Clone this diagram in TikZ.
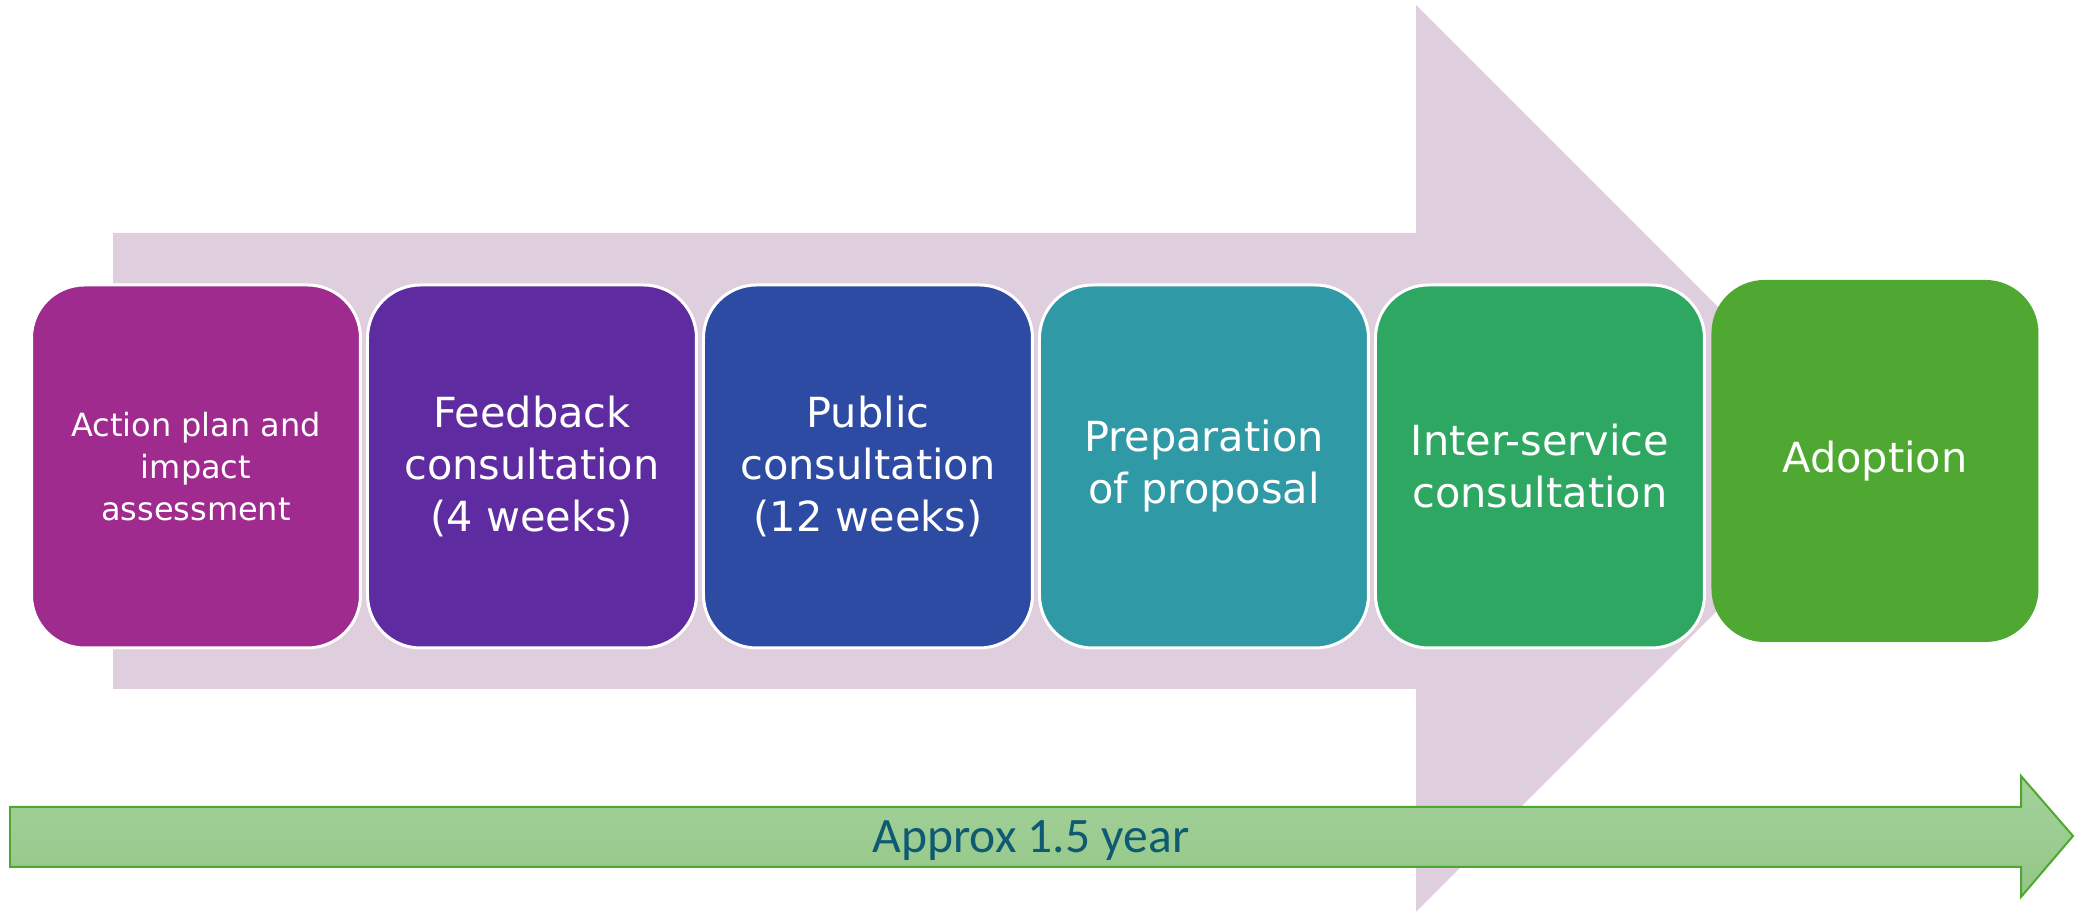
\documentclass[tikz,border=0pt]{standalone}
\usepackage{fontspec}
\setmainfont{DejaVu Sans}
\newfontfamily\dauerfont{Carlito}
\usepackage{xcolor}
\usepackage{tikz}
\usetikzlibrary{positioning}
\definecolor{stufeA}{HTML}{A02B8F}
\definecolor{stufeB}{HTML}{5F2BA0}
\definecolor{stufeC}{HTML}{2D4BA3}
\definecolor{stufeD}{HTML}{2F9AA5}
\definecolor{stufeE}{HTML}{2EA762}
\definecolor{stufeF}{HTML}{4FA832}
\definecolor{bandrosa}{HTML}{DFCEDD}
\definecolor{zeitrand}{HTML}{4EA72E}
\definecolor{zeitoben}{HTML}{A3D29B}
\definecolor{zeitunten}{HTML}{94C687}
\definecolor{zeittext}{HTML}{0E5A72}
\tikzset{
  Kasten/.style={fill=#1,draw=white,line width=.3mm,rounded corners=5.3mm,
    minimum width=32.9mm,minimum height=36.3mm,inner sep=0pt,outer sep=0pt,
    text=white,align=center,font=\fontsize{11.8}{14.8}\selectfont}, % für Schritte
  Band/.style={fill=bandrosa}, % großer Pfeil
  Zeitpfeil/.style={draw=zeitrand,line width=.2mm,top color=zeitoben,bottom color=zeitunten} % für Dauer
}

\begin{document}
\begin{tikzpicture}[x=.1mm,y=.1mm]
\useasboundingbox (0,0) rectangle (2075,912);

%Hintergrundpfeil
\fill[Band] (113,223) -- (1416,223) -- (1416,0) -- (1869.5,453.5)
  -- (1416,907) -- (1416,679) -- (113,679) -- cycle;

%Schritte
\node[Kasten=stufeA,font=\fontsize{9.1}{12}\selectfont] (S1) at (196,445.5) {Action plan and\\impact\\assessment};
\node[Kasten=stufeB,right=.7mm of S1] (S2) {Feedback\\consultation\\(4 weeks)};
\node[Kasten=stufeC,right=.7mm of S2] (S3) {Public\\consultation\\(12 weeks)};
\node[Kasten=stufeD,right=.7mm of S3] (S4) {Preparation\\of proposal};
\node[Kasten=stufeE,right=.7mm of S4] (S5) {Inter-service\\consultation};
\node[Kasten=stufeF,draw=none,right=.7mm of S5,yshift=.55mm,
  minimum width=32.7mm,minimum height=36.2mm] (S6) {Adoption};

%Zeitpfeil
\draw[Zeitpfeil] (10,45) -- (2021,45) -- (2021,15) -- (2073,76)
  -- (2021,136) -- (2021,105) -- (10,105) -- cycle;
\node[anchor=base,text=zeittext,font=\dauerfont\fontsize{14.1}{17}\selectfont] (dauer) at (1031,59) {Approx 1.5 year};

\end{tikzpicture}
\end{document}
